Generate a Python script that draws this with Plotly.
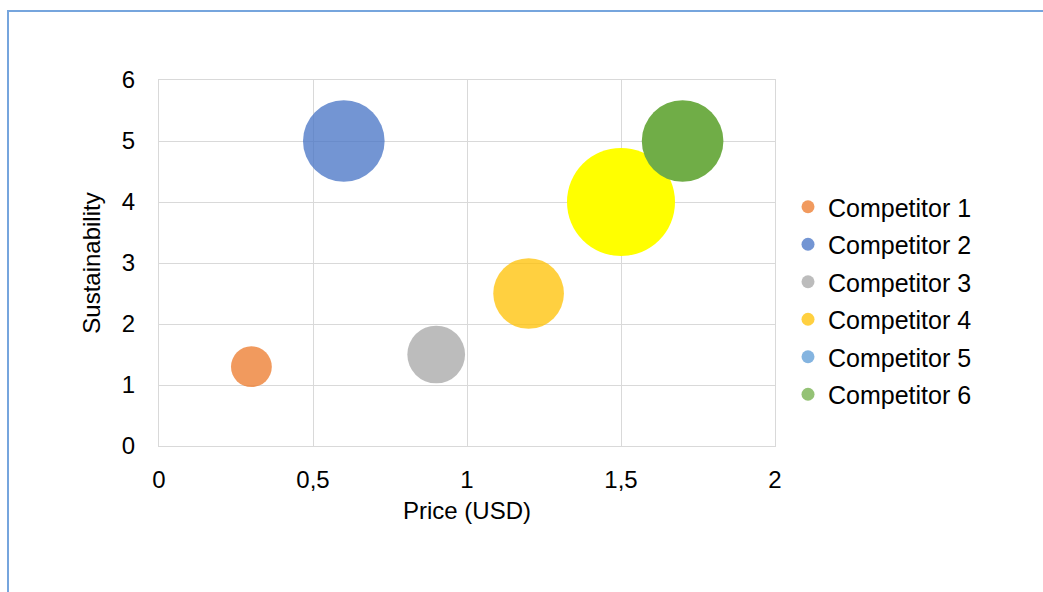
import plotly.graph_objects as go

# Competitor data: price, sustainability score and relative size
competitors = ["Competitor 1", "Competitor 2", "Competitor 3",
               "Competitor 4", "Competitor 5", "Competitor 6"]
price_usd = [0.3, 0.6, 0.9, 1.2, 1.5, 1.7]
sustainability = [1.3, 5, 1.5, 2.5, 4, 5]
bubble_size = [1, 4, 2, 3, 7, 4]

# Bubble fills and legend swatch colours
bubble_colors = ["rgba(237,125,49,0.78)", "rgba(68,114,196,0.75)",
                 "rgba(165,165,165,0.75)", "rgba(255,192,0,0.75)",
                 "#FFFF00", "#70AD47"]
legend_colors = ["rgba(237,125,49,0.78)", "rgba(68,114,196,0.75)",
                 "rgba(165,165,165,0.75)", "rgba(255,192,0,0.75)",
                 "rgba(91,155,213,0.75)", "rgba(112,173,71,0.75)"]

x_ticks = [0, 0.5, 1, 1.5, 2]
x_tick_labels = ["0", "0,5", "1", "1,5", "2"]
y_ticks = [0, 1, 2, 3, 4, 5, 6]

FONT = "Liberation Sans, Arial, sans-serif"
W, H = 1043, 592
L, R, T, B = 159, 1043 - 775, 80, 592 - 446
max_diam = 108
sizeref = 2.0 * max(bubble_size) / max_diam ** 2

fig = go.Figure()
for name, x, y, s, c in zip(competitors, price_usd, sustainability,
                            bubble_size, bubble_colors):
    fig.add_trace(go.Scatter(
        x=[x], y=[y], mode="markers", name=name, showlegend=False,
        marker=dict(size=[s], sizemode="area", sizeref=sizeref,
                    color=c, opacity=1, line=dict(width=0)),
        cliponaxis=False,
    ))

# Legend entries with small round swatches
for name, c in zip(competitors, legend_colors):
    fig.add_trace(go.Scatter(
        x=[None], y=[None], mode="markers", name=name, legendgroup=name,
        marker=dict(size=13, color=c, opacity=1, line=dict(width=0)),
    ))

pw = W - L - R
ph = H - T - B


def px_x(v):
    return (v - L) / pw


def px_y(v):
    return (H - B - v) / ph


fig.update_layout(
    width=W, height=H,
    margin=dict(l=L, r=R, t=T, b=B, pad=0),
    paper_bgcolor="white", plot_bgcolor="white",
    font=dict(family=FONT, color="#000000"),
    showlegend=True,
    legend=dict(
        x=px_x(788), y=px_y(300.5), xanchor="left", yanchor="middle",
        traceorder="grouped", tracegroupgap=2,
        font=dict(size=25, family=FONT, color="#000000"),
        bgcolor="rgba(0,0,0,0)", borderwidth=0,
    ),
    xaxis=dict(
        range=[0, 2], tickvals=x_ticks, ticktext=x_tick_labels,
        showgrid=True, gridcolor="#D9D9D9", gridwidth=1,
        showline=True, linecolor="#D9D9D9", linewidth=1, mirror=True,
        zeroline=False, ticks="outside", ticklen=12,
        tickcolor="rgba(0,0,0,0)",
        tickfont=dict(size=24, family=FONT, color="#000000"),
        title=dict(text="Price (USD)", standoff=10,
                   font=dict(size=24, family=FONT, color="#000000")),
        fixedrange=True,
    ),
    yaxis=dict(
        range=[0, 6], tickvals=y_ticks,
        showgrid=True, gridcolor="#D9D9D9", gridwidth=1,
        showline=True, linecolor="#D9D9D9", linewidth=1, mirror=True,
        zeroline=False, ticks="outside", ticklen=18,
        tickcolor="rgba(0,0,0,0)",
        tickfont=dict(size=24, family=FONT, color="#000000"),
        title=dict(text="Sustainability", standoff=14,
                   font=dict(size=24, family=FONT, color="#000000")),
        fixedrange=True,
    ),
    shapes=[dict(
        type="rect", xref="paper", yref="paper",
        x0=px_x(8), x1=px_x(1060), y0=px_y(610), y1=px_y(11),
        line=dict(color="#76A5DD", width=2), fillcolor="rgba(0,0,0,0)",
        layer="above",
    )],
)

fig.write_html("out.html")
